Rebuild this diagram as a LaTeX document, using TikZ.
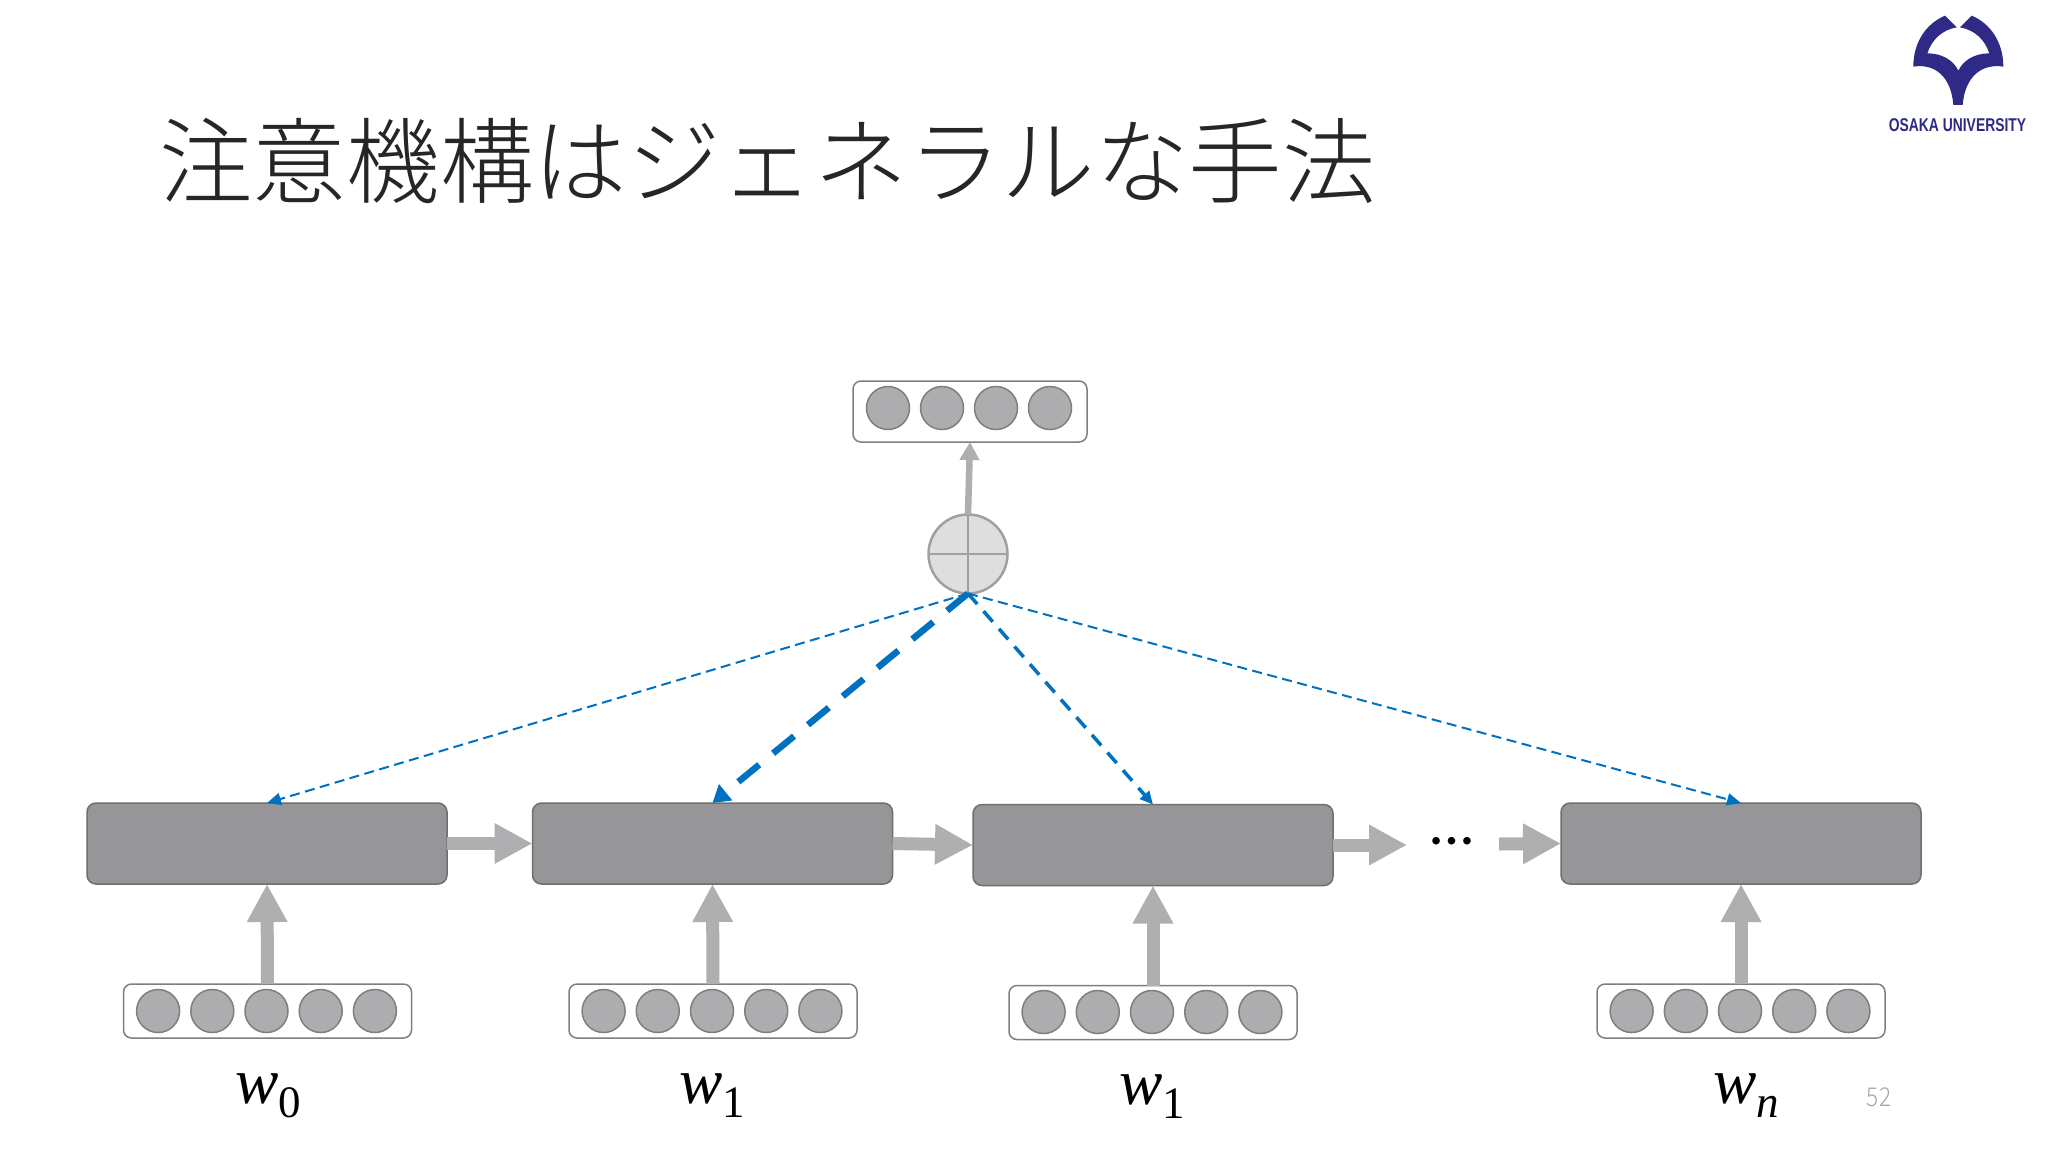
\documentclass[tikz,border=0pt]{standalone}
\usepackage{fontspec}
\usetikzlibrary{arrows.meta}
\setmainfont{Liberation Sans}
\newfontfamily\cjk{Noto Sans CJK JP Light}
\newfontfamily\wser{Liberation Serif}
\newfontfamily\dotf{Lato}
\definecolor{navy}{HTML}{2E2A85}
\definecolor{bluel}{HTML}{0070C0}
\definecolor{barrow}{HTML}{AFAEB0}
\definecolor{boxf}{HTML}{969597}
\definecolor{boxd}{HTML}{6F6E70}
\definecolor{circf}{HTML}{ADACAE}
\definecolor{circd}{HTML}{7F7F7F}
\definecolor{plusf}{HTML}{DEDEDE}
\definecolor{plusd}{HTML}{A0A0A0}
\newcommand{\wlabel}[2]{{\wser\fontsize{65}{65}\selectfont\itshape w\raisebox{-14pt}{\fontsize{45}{45}\selectfont #1#2}}}
\tikzset{
  hid/.style={draw=boxd,fill=boxf,line width=1.5pt,rounded corners=9pt,inner sep=0pt,outer sep=0pt,minimum width=360pt,minimum height=81pt},
  vec/.style={draw=circd,fill=white,line width=1.5pt,rounded corners=8pt,inner sep=0pt,outer sep=0pt,minimum height=54pt},
  cell/.style={circle,draw=circd,fill=circf,line width=1.5pt,inner sep=0pt,outer sep=0pt,minimum size=43pt},
  block/.style={draw=barrow,line width=13pt,-{Triangle[length=38pt,width=38pt]}},
  thinblock/.style={draw=barrow,line width=6.5pt,-{Triangle[length=18pt,width=19pt]}},
  att/.style={draw=bluel,line width=2pt,dash pattern=on 10pt off 5.5pt,-{Triangle[length=14pt,width=12pt]}},
  attm/.style={draw=bluel,line width=3.5pt,dash pattern=on 14pt off 9.5pt,-{Triangle[length=13pt,width=12pt]}},
  atts/.style={draw=bluel,line width=6.5pt,dash pattern=on 27pt off 18pt,-{Triangle[length=17pt,width=20pt]}},
  wlab/.style={anchor=base,inner sep=0pt,outer sep=0pt},
}
\begin{document}
\begin{tikzpicture}[x=1pt,y=-1pt]
\useasboundingbox[fill=white] (0,0) rectangle (2048,1152);
% title
\node[anchor=base west,inner sep=0pt,text=black!85] (title) at (159,196.5) {\cjk\fontsize{93.6}{94}\selectfont 注意機構はジェネラルな手法};
% logo
\begin{scope}[shift={(1850,0)},x=0.3333pt,y=-0.3333pt]
\fill[navy] (190,200) .. controls (190,125) and (230,70) .. (285,47) -- (320,82)
  .. controls (275,90) and (245,120) .. (232,160)
  .. controls (275,160) and (310,180) .. (325,212)
  .. controls (340,180) and (375,160) .. (418,160)
  .. controls (405,120) and (375,90) .. (330,82) -- (365,47)
  .. controls (420,70) and (460,125) .. (460,200)
  .. controls (400,190) and (345,225) .. (338,315) -- (310,315)
  .. controls (303,225) and (250,190) .. (190,200) -- cycle;
\end{scope}
\node[anchor=base,inner sep=0pt,text=navy,xscale=0.75] (osaka) at (1957.5,131) {\fontsize{18.5}{18.5}\selectfont\bfseries OSAKA UNIVERSITY};
% hidden boxes
\node[hid] (h1) at (267,843.5) {};
\node[hid] (h2) at (712.5,843.5) {};
\node[hid] (h3) at (1153,845) {};
\node[hid] (h4) at (1741,843.5) {};
% input vectors
\foreach \n/\cx/\cy/\w in {1/267.5/1011/288,2/713/1011/288,3/1153/1012.5/288,4/1741/1011/288}{
  \node[vec,minimum width=\w pt] (v\n) at (\cx,\cy) {};
}
\foreach \n/\cx/\cy/\dd in {1/266.5/1011/54.2,2/712/1011/54.2,3/1152/1012/54.2,4/1740/1011/54.2}{
  \foreach \k in {-2,...,2}{
    \node[cell] (c\n\k) at ({\cx+\k*\dd},\cy) {};
  }
}
% output vector
\node[vec,minimum width=234pt,minimum height=61pt] (top) at (970,411.5) {};
\foreach \k/\px in {1/888,2/942,3/996,4/1050}{
  \node[cell] (o\k) at (\px,408) {};
}
% plus
\node[circle,draw=plusd,fill=plusf,line width=2.5pt,inner sep=0pt,outer sep=0pt,minimum size=79pt] (plus) at (968,554) {};
\draw[plusd,line width=2pt] (plus.north) -- (plus.south);
\draw[plusd,line width=2pt] (plus.west) -- (plus.east);
% block arrows
\foreach \n in {1,2,3,4}{
  \draw[block] (v\n.north) -- (h\n.south);
}
\draw[block] (h1.east) -- (h2.west);
\draw[block] (h2.east) -- (h3.west);
\coordinate (dotin) at (1407,845);
\coordinate (dotout) at (1499,844);
\draw[block] (h3.east) -- (dotin);
\draw[block] (dotout) -- (h4.west);
\node[anchor=base,inner sep=0pt] (dots) at (1452,844) {\dotf\fontsize{60}{60}\selectfont …};
\draw[thinblock] (plus.north) -- (top.south);
% attention arrows
\draw[att] (plus.south) -- (h1.north);
\draw[atts] (plus.south) -- (h2.north);
\draw[attm] (plus.south) -- (h3.north);
\draw[att] (plus.south) -- (h4.north);
% labels
\node[wlab] (w0) at (268.5,1103) {\wlabel{\upshape}{0}};
\node[wlab] (w1) at (712.5,1103) {\wlabel{\upshape}{1}};
\node[wlab] (w2) at (1152.5,1104) {\wlabel{\upshape}{1}};
\node[wlab] (wn) at (1746,1103) {\wlabel{}{n}};
\node[anchor=base,inner sep=0pt,text=black!35,xscale=0.87] (page) at (1879,1106) {\cjk\fontsize{26}{26}\selectfont 52};
\end{tikzpicture}
\end{document}
